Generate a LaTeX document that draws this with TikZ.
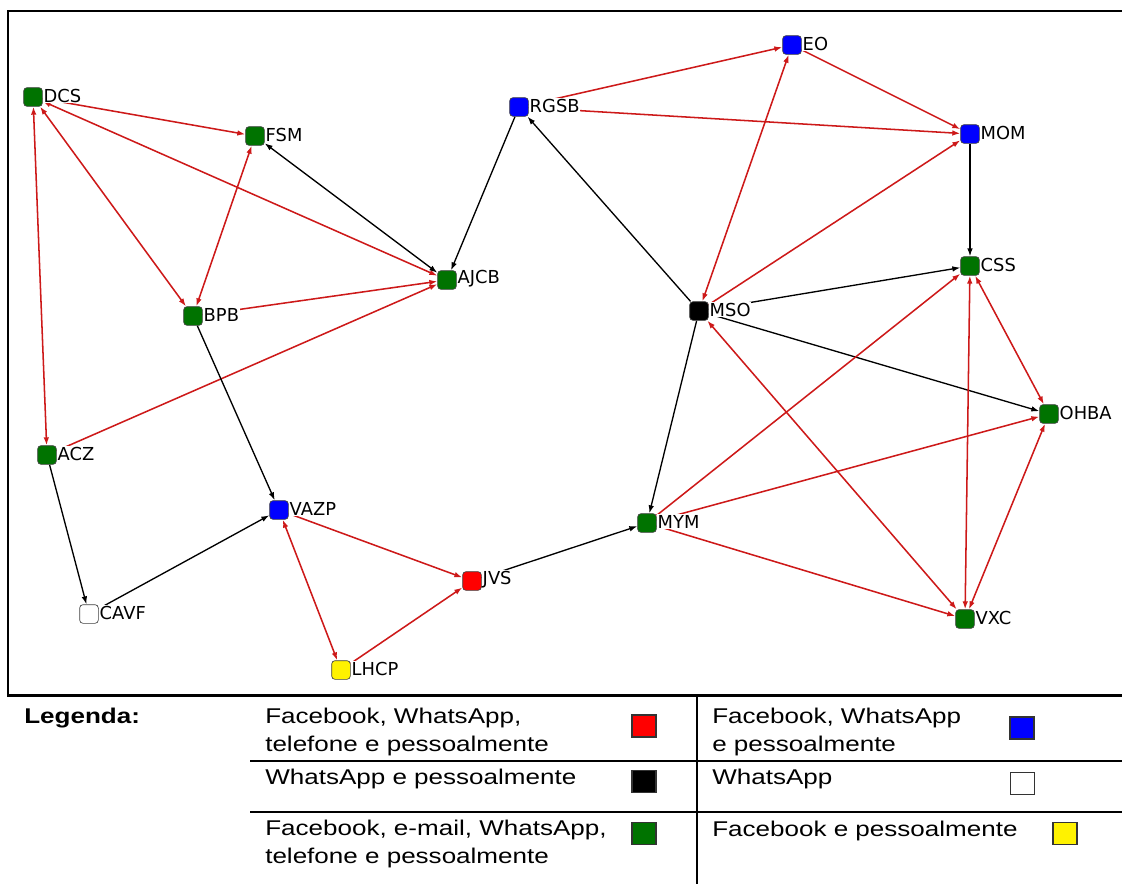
\documentclass[tikz,border=0pt]{standalone}
\usepackage{fontspec}
\setmainfont{Liberation Sans}
\newfontfamily\lblfont{DejaVu Sans}
\newfontfamily\legfont[FakeStretch=1.22]{Liberation Sans}
\usetikzlibrary{arrows.meta,backgrounds}
\definecolor{ngreen}{RGB}{0,115,0}
\definecolor{ered}{RGB}{205,25,25}
\begin{document}
\begin{tikzpicture}[x=0.75pt,y=-0.75pt,
  nd/.style={draw=black!75, line width=0.5pt, rounded corners=2.5pt, minimum size=14pt, inner sep=0pt, fill=#1},
  lbl/.style={fill=white, inner sep=0.6pt, yshift=1pt, font=\lblfont\fontsize{13.4}{15}\selectfont},
  redge/.style={draw=ered, line width=1.15pt},
  kedge/.style={draw=black, line width=1pt},
  >={Latex[length=6pt,width=4.2pt]},
  frame/.style={line width=2pt, line cap=rect},
  leg/.style={inner sep=0pt, align=left, anchor=base west, font=\legfont\fontsize{16}{21}\selectfont},
  lsq/.style={draw=black!80, line width=0.9pt, minimum width=18pt, minimum height=16.5pt, inner sep=0pt, fill=#1}
]
\useasboundingbox (0,0) rectangle (1122,883);

% frame and legend grid
\draw[frame] (1130,11) -- (8,11) -- (8,695.5) -- (1130,695.5);
\draw[frame] (251,761) -- (1130,761);
\draw[frame] (251,812) -- (1130,812);
\draw[frame] (697,695.5) -- (697,890);

% nodes
\node[nd=ngreen, label={[lbl]east:DCS}]  (DCS)  at (33,97)   {};
\node[nd=ngreen, label={[lbl]east:FSM}]  (FSM)  at (255,136) {};
\node[nd=blue,   label={[lbl]east:RGSB}] (RGSB) at (519,107) {};
\node[nd=blue,   label={[lbl]east:EO}]   (EO)   at (792,45)  {};
\node[nd=blue,   label={[lbl]east:MOM}]  (MOM)  at (970,134) {};
\node[nd=ngreen, label={[lbl]east:CSS}]  (CSS)  at (970,266) {};
\node[nd=ngreen, label={[lbl]east:AJCB}] (AJCB) at (447,280) {};
\node[nd=ngreen, label={[lbl]east:BPB}]  (BPB)  at (193,316) {};
\node[nd=black,  label={[lbl]east:MSO}]  (MSO)  at (699,311) {};
\node[nd=ngreen, label={[lbl]east:OHBA}] (OHBA) at (1049,414) {};
\node[nd=ngreen, label={[lbl]east:ACZ}]  (ACZ)  at (47,455)  {};
\node[nd=blue,   label={[lbl]east:VAZP}] (VAZP) at (279,510) {};
\node[nd=ngreen, label={[lbl]east:MYM}]  (MYM)  at (647,523) {};
\node[nd=red,    label={[lbl]east:JVS}]  (JVS)  at (472,581) {};
\node[nd=white,  label={[lbl]east:CAVF}] (CAVF) at (89,614)  {};
\node[nd=ngreen, label={[lbl]east:VXC}]  (VXC)  at (965,619) {};
\node[nd=yellow, label={[lbl]east:LHCP}] (LHCP) at (341,670) {};

% edges
\begin{scope}[on background layer]
\draw[redge,->]  (DCS) -- (FSM);
\draw[redge,<->] (DCS) -- (AJCB);
\draw[redge,<->] (DCS) -- (BPB);
\draw[redge,<->] (DCS) -- (ACZ);
\draw[redge,<->] (FSM) -- (BPB);
\draw[kedge,<->] (FSM) -- (AJCB);
\draw[redge,->]  (BPB) -- (AJCB);
\draw[redge,->]  (ACZ) -- (AJCB);
\draw[kedge,->]  (RGSB) -- (AJCB);
\draw[kedge,->]  (BPB) -- (VAZP);
\draw[kedge,->]  (ACZ) -- (CAVF);
\draw[kedge,->]  (CAVF) -- (VAZP);
\draw[redge,->]  (VAZP) -- (JVS);
\draw[redge,<->] (VAZP) -- (LHCP);
\draw[redge,->]  (LHCP) -- (JVS);
\draw[kedge,->]  (JVS) -- (MYM);
\draw[kedge,->]  (MSO) -- (MYM);
\draw[kedge,->]  (MSO) -- (RGSB);
\draw[redge,->]  (RGSB) -- (EO);
\draw[redge,->]  (RGSB) -- (MOM);
\draw[redge,->]  (EO) -- (MOM);
\draw[redge,<->] (MSO) -- (EO);
\draw[redge,->]  (MSO) -- (MOM);
\draw[kedge,->]  (MOM) -- (CSS);
\draw[kedge,->]  (MSO) -- (CSS);
\draw[kedge,->]  (MSO) -- (OHBA);
\draw[redge,->]  (MYM) -- (CSS);
\draw[redge,<->] (CSS) -- (VXC);
\draw[redge,<->] (CSS) -- (OHBA);
\draw[redge,->]  (MYM) -- (OHBA);
\draw[redge,->]  (MYM) -- (VXC);
\draw[redge,<->] (MSO) -- (VXC);
\draw[redge,<->] (OHBA) -- (VXC);
\end{scope}

% legend (multi-line nodes are placed by the baseline of their last line)
\node[leg] (legt) at (24,723) {\bfseries Legenda:};
\node[leg] (l1a) at (265,751) {Facebook, WhatsApp,\\telefone e pessoalmente};
\node[leg] (l1b) at (712,751) {Facebook, WhatsApp\\e pessoalmente};
\node[leg] (l2a) at (265,784) {WhatsApp e pessoalmente};
\node[leg] (l2b) at (712,784) {WhatsApp};
\node[leg] (l3a) at (265,863) {Facebook, e-mail, WhatsApp,\\telefone e pessoalmente};
\node[leg] (l3b) at (712,836) {Facebook e pessoalmente};

\node[lsq=red]    (sq1) at (644,726)    {};
\node[lsq=blue]   (sq2) at (1022,728)   {};
\node[lsq=black]  (sq3) at (644,781.5)  {};
\node[lsq=white]  (sq4) at (1022.5,783.5) {};
\node[lsq=ngreen] (sq5) at (644,833.5)  {};
\node[lsq=yellow] (sq6) at (1065,833.5) {};
\end{tikzpicture}
\end{document}
